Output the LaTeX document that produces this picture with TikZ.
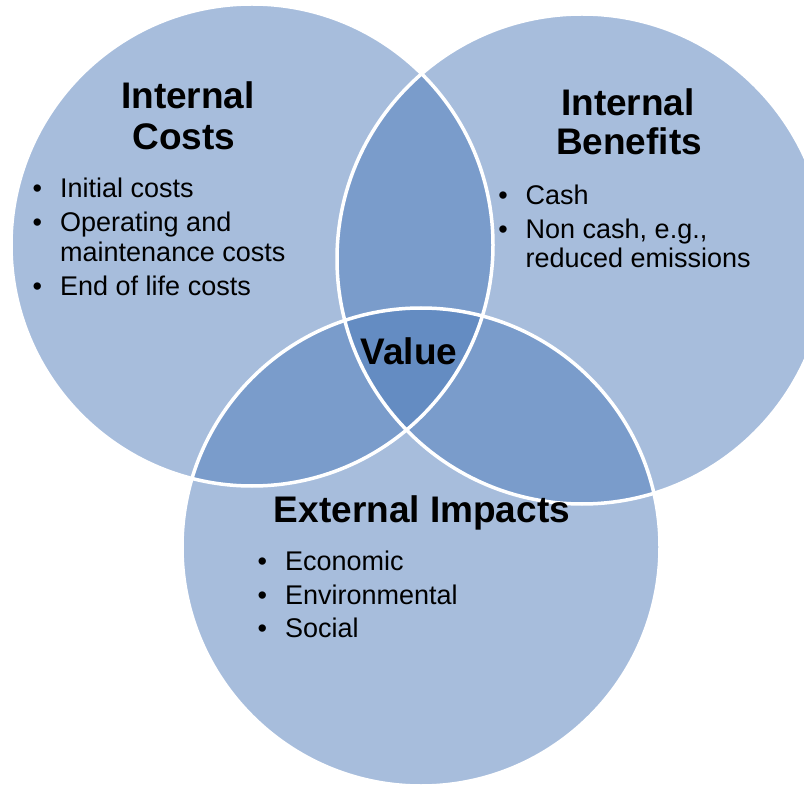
\documentclass[tikz,border=0pt]{standalone}
\usepackage{fontspec}
\setmainfont{Liberation Sans}
\usepackage{xcolor}

\definecolor{vennblue}{RGB}{79,124,186}
\newcommand{\bul}{\llap{\textbullet\hspace{18pt}}}

\tikzset{
  ring/.style={fill=vennblue, fill opacity=0.5},
  rim/.style={draw=white, line width=3.5pt},
  head/.style={font=\fontsize{37}{42}\selectfont\bfseries, inner sep=0pt, anchor=base},
  item/.style={font=\fontsize{27}{31}\selectfont, inner sep=0pt, anchor=base west}
}

\begin{document}
\begin{tikzpicture}[x=1pt,y=1pt,yscale=-1]
\useasboundingbox (0,0) rectangle (804,786);
\clip (0,0) rectangle (804,786);

%Shape: Circle [costs]
\fill [ring] (252,245) circle (241pt);
%Shape: Circle [benefits]
\fill [ring] (582,259) circle (245pt);
%Shape: Circle [impacts]
\fill [ring] (421,547) circle (239pt);

%Outlines
\draw [rim] (252,245) circle (241pt);
\draw [rim] (582,259) circle (245pt);
\draw [rim] (421,547) circle (239pt);

% Text Node
\node [head] (costA) at (188,109) {Internal};
\node [head] (costB) at (184,150) {Costs};
\node [item] (cost1) at (60,198) {\bul Initial costs};
\node [item] (cost2) at (60,232) {\bul Operating and};
\node [item] (cost3) at (60,262) {maintenance costs};
\node [item] (cost4) at (60,296) {\bul End of life costs};

% Text Node
\node [head] (benA) at (628,116) {Internal};
\node [head] (benB) at (629,155) {Benefits};
\node [item] (ben1) at (525.5,205) {\bul Cash};
\node [item] (ben2) at (525.5,239) {\bul Non cash, e.g.,};
\node [item] (ben3) at (525.5,268) {reduced emissions};

% Text Node
\node [head] (ext) at (422,522) {External Impacts};
\node [item] (ext1) at (285,570) {\bul Economic};
\node [item] (ext2) at (285,604) {\bul Environmental};
\node [item] (ext3) at (285,637) {\bul Social};

% Text Node
\node [head] (val) at (409,365) {Value};

\end{tikzpicture}
\end{document}
